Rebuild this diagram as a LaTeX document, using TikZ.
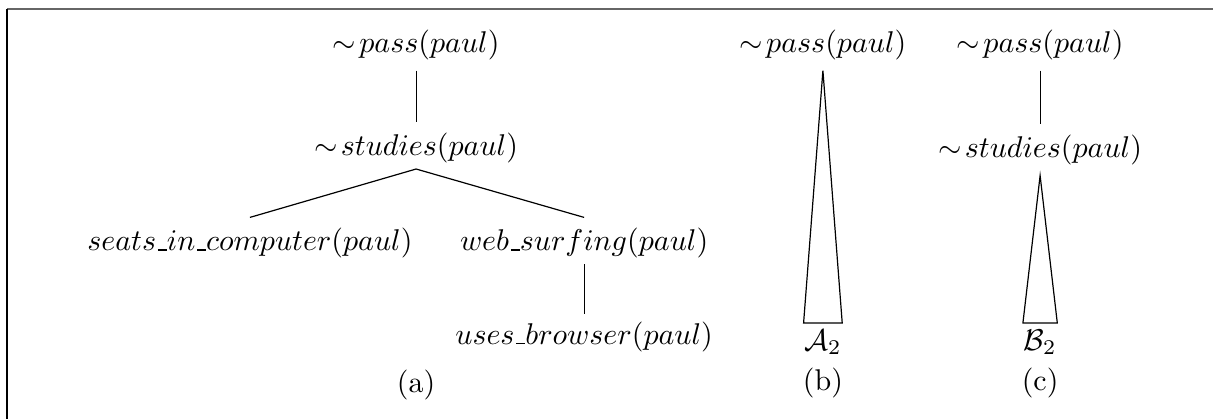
\documentclass[tikz,border=0pt]{standalone}
\usepackage{amsmath}
\usepackage{amsfonts}
\usepackage{tikz}
\usetikzlibrary{positioning}

% short underscore sitting on the baseline
\newcommand{\usc}{\kern.06em\vbox{\hrule width.3em}}

\begin{document}
\begin{tikzpicture}[x=1pt,y=1pt,
    subtree/.style={inner xsep=0pt, inner ysep=2pt}]
    \useasboundingbox (0,0) rectangle (404.33,-139.67);
    % open frame: top and left rules only
    \draw[black!60, line width=0.7pt] (2.33,-2.9) -- (404.33,-2.9);
    \draw (2.33,-2.9) -- (2.33,-139.67);

    % (a) full derivation
    \node(passA) at (138.7,-15) {$\sim\!pass(paul)$};
    \node(studiesA) at (138.7,-49.3) {$\sim\!studies(paul)$};
    \node(seats) at (83.3,-81) {$seats\usc in\usc computer(paul)$};
    \node(surfing) at (194.7,-81) {$web\usc surfing(paul)$};
    \node(browser) at (194.7,-112.3) {$uses\usc browser(paul)$};
    \node(labelA) at (138.7,-128.3) {(a)};
    \draw (passA) -- (studiesA);
    \draw ([yshift=1.5pt]studiesA.south) -- (seats.north);
    \draw ([yshift=1.5pt]studiesA.south) -- (surfing.north);
    \draw ([yshift=1.5pt]surfing.south) -- ([yshift=-1pt]browser.north);

    % (b) collapsed tree
    \node(passB) at (274.3,-15) {$\sim\!pass(paul)$};
    \node(treeA) [subtree] at (274.3,-114) {$\mathcal{A}_2$};
    \node(labelB) at (274.3,-127.7) {(b)};
    \draw (passB.south) -- (treeA.north west) -- (treeA.north east) -- cycle;

    % (c) one step, then collapsed tree
    \node(passC) at (346.7,-15) {$\sim\!pass(paul)$};
    \node(studiesC) at (346.7,-50) {$\sim\!studies(paul)$};
    \node(treeB) [subtree] at (346.7,-114) {$\mathcal{B}_2$};
    \node(labelC) at (346.7,-127.7) {(c)};
    \draw (passC) -- (studiesC);
    \draw (studiesC.south) -- (treeB.north west) -- (treeB.north east) -- cycle;
\end{tikzpicture}
\end{document}
